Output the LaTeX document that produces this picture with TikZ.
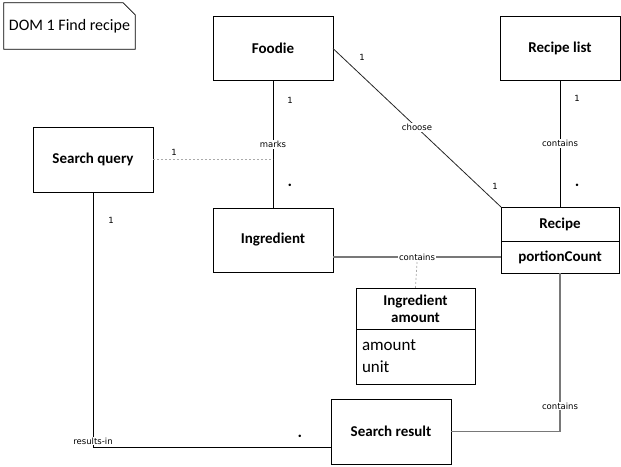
\documentclass[tikz,border=0pt]{standalone}
\usepackage{fontspec}
\setmainfont{Carlito}
\newfontfamily\lblfont{DejaVu Sans}
\usepackage{xcolor}
\usetikzlibrary{positioning,calc}
\definecolor{linegray}{RGB}{120,120,120}
\definecolor{dashgray}{RGB}{170,170,170}

\begin{document}
\begin{tikzpicture}[x=1pt, y=-1pt,
  cls/.style={draw, line width=0.8pt, outer sep=0pt, minimum width=120pt, minimum height=64pt, font=\fontsize{15}{18}\selectfont\bfseries, align=center},
  attrbox/.style={draw, line width=0.8pt, outer sep=0pt, font=\fontsize{17}{22}\selectfont, align=left},
  assoc/.style={line width=0.8pt},
  grayassoc/.style={line width=1.4pt, draw=linegray},
  lbl/.style={fill=white, inner sep=1pt, font=\lblfont\fontsize{8.5}{10}\selectfont},
  mult/.style={inner sep=0pt, font=\lblfont\fontsize{8.5}{10}\selectfont}
]
  \useasboundingbox (0,0) rectangle (621,466);
  % note
  \node[minimum width=131pt, minimum height=46pt, font=\fontsize{16}{19}\selectfont] (note) at (69.5,26) {DOM 1 Find recipe};
  \draw[line width=0.7pt] (note.south west) -- (note.north west) -- ([xshift=-12pt]note.north east)
    -- ([yshift=-12pt]note.north east) -- (note.south east) -- cycle;
  % classes
  \node[cls] (foodie) at (273,48.5) {Foodie};
  \node[cls] (recipelist) at (560,48.5) {Recipe list};
  \node[cls, minimum height=65pt] (squery) at (93,159.5) {Search query};
  \node[cls] (ingredient) at (273,240) {Ingredient};
  \node[cls, minimum width=118pt, minimum height=34pt] (recipe) at (560,224) {Recipe};
  \node[cls, minimum width=118pt, minimum height=32pt, anchor=north] (recipeattr) at (recipe.south) {portionCount};
  \node[cls, minimum width=119pt, minimum height=41pt, font=\fontsize{15}{17}\selectfont\bfseries] (ingamount) at (415.5,308.5) {Ingredient\\amount};
  \node[attrbox, text width=107pt, minimum height=55pt, inner xsep=6pt, anchor=north] (ingattr) at (ingamount.south) {amount\\unit};
  \node[cls, minimum height=65pt] (sresult) at (391,431.5) {Search result};
  % associations
  \draw[assoc] (foodie) -- node[lbl] {marks} (ingredient);
  \coordinate (markq) at (squery.east -| foodie.south);
  \draw[dashed, dash pattern=on 2pt off 2pt, draw=dashgray, line width=0.7pt] (squery.east) -- (markq);
  \draw[assoc, draw=black!85] (foodie.east) -- node[lbl] {choose} (recipe.north west);
  \draw[assoc] (recipelist) -- node[lbl] {contains} (recipe);
  \draw[grayassoc] (ingredient.east |- recipeattr.west) -- node[lbl] (contmid) {contains} (recipeattr.west);
  \draw[dashed, dash pattern=on 2pt off 2pt, draw=dashgray, line width=0.7pt] (contmid.south) -- (ingamount.north);
  \coordinate (resin) at (93,447);
  \draw[assoc] (squery.south) -- (resin) -- (resin -| sresult.west);
  \node[lbl, anchor=south, inner sep=0.5pt] at ([yshift=2pt]resin) {results-in};
  \draw[grayassoc] (recipeattr.south) |- node[lbl, pos=0.42] {contains} (sresult.east);
  % multiplicities
  \node[mult] at (290,100) {1};
  \node[mult] at (290,186) {•};
  \node[mult] at (174,152) {1};
  \node[mult] at (362,57) {1};
  \node[mult] at (495,186) {1};
  \node[mult] at (577,98) {1};
  \node[mult] at (577,186) {•};
  \node[mult] at (111,220) {1};
  \node[mult] at (300,437) {•};
\end{tikzpicture}
\end{document}
